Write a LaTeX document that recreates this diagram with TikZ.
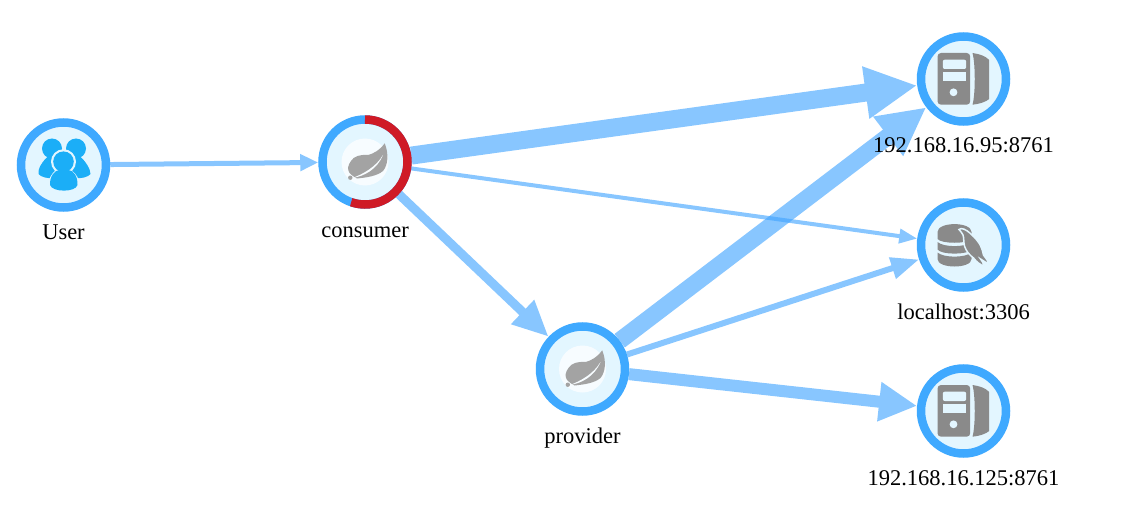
\documentclass[tikz,border=0pt]{standalone}
\usepackage{fontspec}
\setmainfont{Liberation Serif}
\usetikzlibrary{arrows.meta,backgrounds}
\definecolor{ringblue}{HTML}{3FA9FF}
\definecolor{innerblue}{HTML}{E3F6FF}
\definecolor{edgeblue}{HTML}{3FA3FF}
\definecolor{ringred}{HTML}{CF1A26}
\definecolor{icongrey}{HTML}{8A8A8A}
\definecolor{leafgrey}{HTML}{A3A3A3}
\definecolor{peopleblue}{HTML}{1BAEF7}
\tikzset{
  graphnode/.style={circle,draw=ringblue,fill=innerblue,line width=8.5pt,minimum size=85pt,inner sep=0pt},
  lbl/.style={font=\fontsize{22.5}{24}\selectfont,text=black,inner sep=0pt,anchor=base},
  flowgroup/.style={transparency group,opacity=.62},
  flow/.style n args={3}{draw=edgeblue,fill=edgeblue,line width=#1pt,-{Triangle[length=#2pt,width=#3pt]}},
  leaf/.pic={
    \fill[white!70!innerblue] (0,0) circle (23.5);
    \fill[leafgrey] (19.7,-18.7) .. controls (15,-12) and (8,-8) .. (3,-7)
      .. controls (-5,-7.5) and (-11,-6) .. (-14,-1)
      .. controls (-17,3) and (-18,7) .. (-15.5,11)
      .. controls (-13,13.5) and (-11,15) .. (-8,16.5)
      .. controls (2,15.5) and (12,14) .. (18,9)
      .. controls (23,3) and (24,-8) .. cycle;
    \fill[white!70!innerblue] (-12,15.8) .. controls (-2,14.5) and (12,8) .. (18,-7)
      .. controls (11,5) and (-2,12) .. cycle;
    \fill[leafgrey] (-14.7,15.7) circle (2.2);
  },
  server/.pic={
    \fill[icongrey,rounded corners=3.5pt] (-26,-26) rectangle (6.7,25.7);
    \fill[innerblue,rounded corners=2pt] (-20.7,-19.3) -- (2.7,-19.3) -- (2.7,-10) -- (-20.7,-10) -- cycle;
    \fill[innerblue] (-20.7,-7) rectangle (2.7,2.3);
    \fill[innerblue] (-10,13.3) circle (3.9);
    \fill[icongrey] (9,-26) .. controls (16,-25) and (22,-23) .. (25.7,-19)
      -- (25.7,20) .. controls (22,23) and (16,25) .. (9,25.7)
      .. controls (12,15) and (12,-15) .. cycle;
  },
  database/.pic={
    \fill[icongrey] (-26,-13) .. controls (-26,-23.5) and (8,-23.5) .. (8,-13)
       -- (8,-6) .. controls (4,-1) and (-22,-1) .. (-26,-6) -- cycle;
    \fill[icongrey] (-26,-3) .. controls (-20,2.5) and (2,2.5) .. (8,-3)
       -- (8,4.5) .. controls (4,10) and (-22,10) .. (-26,4.5) -- cycle;
    \fill[icongrey] (-26,7.5) .. controls (-20,13) and (2,13) .. (8,7.5)
       -- (8,14) .. controls (8,24) and (-26,24) .. (-26,14) -- cycle;
    \fill[icongrey,draw=innerblue,line width=1.5pt] (-4.5,-15.5) .. controls (-2,-18) and (3,-15) .. (6.7,-11.7)
       .. controls (12,-7) and (15,-3) .. (16.7,0)
       .. controls (18.5,4) and (19.5,7) .. (20,10)
       .. controls (22,13) and (24,15) .. (26,19)
       .. controls (23,18) and (20,16) .. (17,14)
       .. controls (18.5,16) and (20,18) .. (20.5,21)
       .. controls (17,20) and (13,17) .. (10,13)
       .. controls (6,10) and (2.5,6) .. (1,1)
       .. controls (0,-3) and (0.5,-7) .. (-0.5,-10)
       .. controls (-1.5,-12) and (-3,-14) .. cycle;
  },
  people/.pic={
    \fill[peopleblue] (-11.5,-16.5) circle (10);
    \fill[peopleblue] (12.5,-16.5) circle (10);
    \fill[peopleblue] (-15,-9) .. controls (-21,-4) and (-26,4) .. (-25,9)
       .. controls (-23,12) and (-15,14) .. (-9,13) -- (0,-10) -- cycle;
    \fill[peopleblue] (16,-9) .. controls (22,-4) and (27,4) .. (27,9)
       .. controls (25,12) and (17,14) .. (11,13) -- (1,-10) -- cycle;
    \fill[innerblue] (0,-3.3) circle (12.5);
    \fill[innerblue] (-16,26) .. controls (-16,10) and (-8,3) .. (0,3)
       .. controls (8,3) and (17,10) .. (17,26) -- cycle;
    \fill[peopleblue] (0,-3.3) circle (10.3);
    \fill[peopleblue] (-13.5,20) .. controls (-14,12) and (-9,5) .. (-4,5)
       -- (5,5) .. controls (10,5) and (14.5,12) .. (14,20)
       .. controls (12,27.5) and (-11,27.5) .. (-13.5,20) -- cycle;
  }
}
\begin{document}
\begin{tikzpicture}[x=1pt,y=-1pt]
\useasboundingbox (0,0) rectangle (1127,532);
\node[graphnode] (user) at (63.5,165) {};
\node[graphnode] (consumer) at (365,162) {};
\node[graphnode] (provider) at (582.5,369) {};
\node[graphnode] (srva) at (963.5,79) {};
\node[graphnode] (db) at (963.5,245) {};
\node[graphnode] (srvb) at (963.5,411) {};
\draw[ringred,line width=8.5pt] (365,119.5) arc[start angle=-90,end angle=109,radius=42.5];
\pic at (63.5,165) {people};
\pic at (365,162) {leaf};
\pic at (582.5,369) {leaf};
\pic at (963.5,79) {server};
\pic at (963.5,245) {database};
\pic at (963.5,411) {server};
\begin{scope}[on background layer]
\begin{scope}[flowgroup]\draw[flow={5}{18}{16}] (user) -- (consumer);\end{scope}
\begin{scope}[flowgroup]\draw[flow={18}{52}{49}] (consumer) -- (srva);\end{scope}
\begin{scope}[flowgroup]\draw[flow={4}{18}{14}] (consumer) -- (db);\end{scope}
\begin{scope}[flowgroup]\draw[flow={9}{36}{31}] (consumer) -- (provider);\end{scope}
\begin{scope}[flowgroup]\draw[flow={17}{48}{46}] (provider) -- (srva);\end{scope}
\begin{scope}[flowgroup]\draw[flow={6}{28}{21}] (provider) -- (db);\end{scope}
\begin{scope}[flowgroup]\draw[flow={12}{38}{37}] (provider) -- (srvb);\end{scope}
\end{scope}
\node[lbl] (luser) at (63.5,239) {User};
\node[lbl] (lconsumer) at (365,237) {consumer};
\node[lbl] (lprovider) at (582.5,443) {provider};
\node[lbl] (lsrva) at (963.5,153) {192.168.16.95:8761};
\node[lbl] (ldb) at (963.5,319) {localhost:3306};
\node[lbl] (lsrvb) at (963.5,485) {192.168.16.125:8761};
\end{tikzpicture}
\end{document}
